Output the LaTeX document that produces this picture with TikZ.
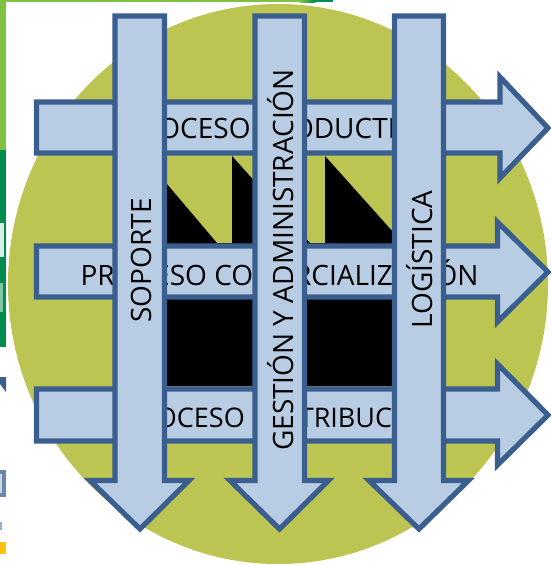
\documentclass[tikz,border=0pt]{standalone}
\usepackage{fontspec}
\setmainfont{Open Sans}
\definecolor{verdeclaro}{HTML}{7FC241}
\definecolor{verdeoscuro}{HTML}{008C4F}
\definecolor{oliva}{HTML}{BCC552}
\definecolor{azulclaro}{HTML}{B8CCE4}
\definecolor{azulborde}{HTML}{3A5F8F}
\definecolor{amarillo}{HTML}{FFC20E}
\tikzset{
	flecha/.style={draw=azulborde, fill=azulclaro, line width=5.2pt, miter limit=10},
	rotulo/.style={font=\fontsize{28}{32}\selectfont, inner sep=0pt, text=black},
}
\begin{document}
\begin{tikzpicture}[x=1pt,y=-1pt]
	\useasboundingbox (0,0) rectangle (551,565);
	\fill [verdeclaro] (0,0) rectangle (6,150);
	\fill [verdeclaro] (0,0) rectangle (300,2);
	\fill [verdeoscuro] (0,150) rectangle (6,347);
	\shade [left color=verdeclaro, right color=verdeoscuro] (300,0) rectangle (315,2);
	\fill [verdeoscuro] (315,0) rectangle (333,2);
	\fill [white!85!verdeoscuro] (0,223) rectangle (4,257);
	\fill [white!50!verdeoscuro] (0,283) rectangle (3,312);
	\fill [azulborde] (0,377) -- (6,377) -- (6,392) -- (0,384) -- cycle;
	\fill [azulborde!75] (0,470) rectangle (6,497);
	\fill [azulborde!25] (0,474) rectangle (2,493);
	\fill [azulborde!50] (0,522) rectangle (2,530);
	\fill [amarillo] (0,542) rectangle (6,554);
	\fill [oliva] (278,284) ellipse (270 and 280);
	\fill (150,164) -- (217,243) -- (232,243) -- (232,156) -- (310,243) -- (325,243) -- (325,156) -- (420,262) -- (420,386) -- (150,386) -- cycle;
	\draw [flecha] (36.5,102) -- (500,102) -- (500,77) -- (548,128) -- (500,178) -- (500,153) -- (36.5,153) -- cycle;
	\draw [flecha] (36.5,246) -- (497.5,246) -- (497.5,222) -- (548,272) -- (497.5,322) -- (497.5,297) -- (36.5,297) -- cycle;
	\draw [flecha] (36.5,389) -- (497.5,389) -- (497.5,364) -- (548,415) -- (497.5,465) -- (497.5,441) -- (36.5,441) -- cycle;
	\node [rotulo] (productivo) at (279,128) {PROCESO PRODUCTIVO};
	\node [rotulo] (comercial) at (279.5,273) {PROCESO COMERCIALIZACIÓN};
	\node [rotulo, font=\fontsize{27}{32}\selectfont] (distribucion) at (282,415) {PROCESO\hspace{5pt} DISTRIBUCIÓN};
	\draw [flecha] (115,16) -- (164.5,16) -- (164.5,480.5) -- (189,480.5) -- (140,529) -- (90,480.5) -- (115,480.5) -- cycle;
	\draw [flecha] (255,16) -- (304.5,16) -- (304.5,480.5) -- (328.5,480.5) -- (279.5,529) -- (230,480.5) -- (255,480.5) -- cycle;
	\draw [flecha] (394.5,16) -- (443.5,16) -- (443.5,480.5) -- (468.5,480.5) -- (419,529) -- (369,480.5) -- (394.5,480.5) -- cycle;
	\node [rotulo, rotate=90] (soporte) at (141,260.5) {SOPORTE};
	\node [rotulo, rotate=90] (gestion) at (281,260) {GESTIÓN Y ADMINISTRACIÓN};
	\node [rotulo, rotate=90] (logistica) at (420,259.5) {LOGÍSTICA};
\end{tikzpicture}
\end{document}
